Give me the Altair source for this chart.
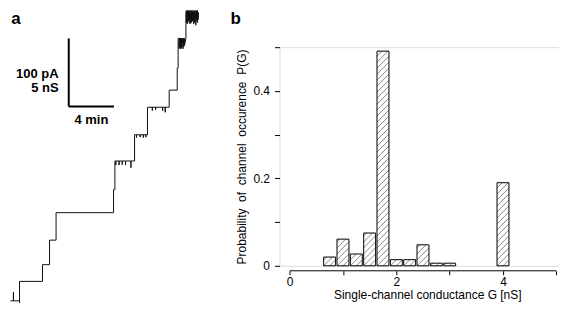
import altair as alt
import pandas as pd

FONT = "Liberation Sans"

# ---------------- panel a: conductance staircase trace ----------------
# time in minutes, conductance in nS
trace_t = [
    0.00, 0.26, 0.26, 0.26, 0.80, 0.80, 0.80, 2.83, 2.83, 3.45, 3.45, 4.03, 4.03,
    9.11, 9.11, 9.23, 9.23,
    9.31, 9.31, 9.31, 9.60, 9.60, 9.60, 9.88, 9.88, 9.88, 10.17, 10.17, 10.17,
    10.65, 10.65, 10.65,
    10.97, 10.97,
    11.14, 11.14, 11.14, 11.46, 11.46, 11.46, 11.74, 11.74, 11.74, 11.97, 11.97, 11.97,
    12.11, 12.11,
    12.54, 12.54, 12.54, 12.83, 12.83, 12.83, 13.45, 13.45, 13.45, 13.68, 13.68, 13.68,
    14.03, 14.03, 14.74, 14.74, 14.82, 14.82,
    14.90, 14.90, 14.95, 14.95, 15.00, 15.00, 15.04, 15.04, 15.10, 15.10,
    15.17, 15.17, 15.24, 15.24, 15.30, 15.30, 15.38, 15.38,
    15.51, 15.51,
    15.55, 15.55, 15.59, 15.59, 15.63, 15.63, 15.67, 15.67, 15.71, 15.71, 15.75, 15.75,
    15.80, 15.80, 15.84, 15.84, 15.88, 15.88, 15.92, 15.92, 15.97, 15.97, 16.01, 16.01,
    16.05, 16.05, 16.10, 16.10, 16.14, 16.14, 16.19, 16.19, 16.23, 16.23, 16.28, 16.28,
    16.33, 16.33, 16.38, 16.38, 16.43, 16.43, 16.48, 16.48, 16.53, 16.53, 16.58, 16.58,
    16.62,
]
trace_g = [
    0.14, 0.14, 0.77, 0.14, 0.14, 0.00, 1.57, 1.57, 2.80, 2.80, 4.60, 4.60, 6.62,
    6.62, 8.31, 8.31, 10.42,
    10.42, 10.12, 10.42, 10.42, 10.12, 10.42, 10.42, 10.15, 10.42, 10.42, 10.12, 10.42,
    10.42, 9.92, 10.42,
    10.42, 12.35,
    12.35, 12.14, 12.35, 12.35, 12.17, 12.35, 12.35, 12.14, 12.35, 12.35, 12.17, 12.35,
    12.35, 14.37,
    14.37, 14.12, 14.37, 14.37, 14.18, 14.37, 14.37, 14.12, 14.37, 14.37, 14.00, 14.37,
    14.37, 15.63, 15.63, 17.25, 17.25, 19.44,
    19.44, 18.70, 19.44, 18.90, 19.44, 18.66, 19.44, 18.80, 19.44, 18.70,
    19.44, 19.00, 19.44, 18.66, 19.44, 18.80, 19.44, 18.90,
    19.44, 21.34,
    21.48, 20.60, 21.34, 20.90, 21.48, 20.50, 21.34, 20.80, 21.48, 20.70, 21.34, 21.00,
    21.48, 20.60, 21.34, 20.80, 21.48, 20.50, 21.34, 20.90, 21.48, 20.70, 21.34, 20.60,
    21.48, 20.90, 21.34, 20.70, 21.48, 20.80, 21.34, 20.50, 21.48, 20.90, 21.34, 20.60,
    21.48, 20.80, 21.34, 20.40, 21.48, 20.90, 21.34, 20.70, 21.48, 20.60, 21.34, 20.80,
    21.34,
]

# scale bars: 4 min and 5 nS (= 100 pA)
bar_len_t = 4
bar_len_g = 5
bar_anchor_t = 5.15
bar_anchor_g = 14.43
scale_texts = ["100 pA", "5 nS", "4 min"]
scale_text_t = [4.25, 4.25, 7.15]
scale_text_g = [16.80, 15.80, 13.40]
scale_text_align = ["right", "right", "center"]

# ---------------- panel b: conductance histogram ----------------
cond = [0.75, 1.0, 1.25, 1.5, 1.75, 2.0, 2.25, 2.5, 2.75, 3.0, 4.0]
prob = [0.020, 0.061, 0.027, 0.075, 0.491, 0.014, 0.014, 0.048, 0.006, 0.006, 0.190]
x_ticks = [0, 1, 2, 3, 4, 5]
y_ticks = [0, 0.1, 0.2, 0.3, 0.4, 0.5]

# ---------------- layout constants ----------------
W, H = 280, 219
XDOM = [-0.19, 5.05]
YDOM = [0, 0.5]
HALF = 0.112
A_T_DOM = [0, 16.9]
A_G_DOM = [0, 21.5]
A_X_RANGE = [-269.5, -78]
A_Y_RANGE = [256, -37]

tx = alt.Scale(domain=A_T_DOM, range=A_X_RANGE, nice=False, zero=False)
gy = alt.Scale(domain=A_G_DOM, range=A_Y_RANGE, nice=False, zero=False)

df_trace = pd.DataFrame({"t": trace_t, "g": trace_g, "i": range(len(trace_t))})
trace = alt.Chart(df_trace).mark_line(color="#111", strokeWidth=1).encode(
    x=alt.X("t:Q", scale=tx, axis=None),
    y=alt.Y("g:Q", scale=gy, axis=None),
    order="i:Q",
)

df_bar = pd.DataFrame({
    "x1": [bar_anchor_t, bar_anchor_t],
    "x2": [bar_anchor_t, bar_anchor_t + bar_len_t],
    "y1": [bar_anchor_g, bar_anchor_g],
    "y2": [bar_anchor_g + bar_len_g, bar_anchor_g],
})
sbar = alt.Chart(df_bar).mark_rule(color="black", strokeWidth=2).encode(
    x=alt.X("x1:Q", scale=tx, axis=None), x2="x2:Q",
    y=alt.Y("y1:Q", scale=gy, axis=None), y2="y2:Q",
)

df_st = pd.DataFrame({"label": scale_texts, "t": scale_text_t, "g": scale_text_g,
                      "al": scale_text_align})
stext_r = alt.Chart(df_st[df_st.al == "right"]).mark_text(
    font=FONT, fontSize=13, fontWeight="bold", align="right", baseline="middle", color="black"
).encode(x=alt.X("t:Q", scale=tx, axis=None), y=alt.Y("g:Q", scale=gy, axis=None), text="label:N")
stext_c = alt.Chart(df_st[df_st.al == "center"]).mark_text(
    font=FONT, fontSize=13, fontWeight="bold", align="center", baseline="middle", color="black"
).encode(x=alt.X("t:Q", scale=tx, axis=None), y=alt.Y("g:Q", scale=gy, axis=None), text="label:N")

lab_a = alt.Chart(pd.DataFrame({"p": ["a"]})).mark_text(
    font=FONT, fontSize=17, fontWeight="bold", align="center", baseline="alphabetic", color="black"
).encode(x=alt.value(-264), y=alt.value(-23), text="p:N")
lab_b = alt.Chart(pd.DataFrame({"p": ["b"]})).mark_text(
    font=FONT, fontSize=17, fontWeight="bold", align="left", baseline="alphabetic", color="black"
).encode(x=alt.value(-49), y=alt.value(-23), text="p:N")

panel_a = alt.layer(trace, sbar, stext_r, stext_c, lab_a, lab_b)

# ---------------- panel b layers ----------------
df_h = pd.DataFrame({"c": cond, "p": prob})
df_h["x0"] = df_h["c"] - HALF
df_h["x1"] = df_h["c"] + HALF
df_h["base"] = 0.0

# diagonal hatch segments derived from the bars
sx = W / (XDOM[1] - XDOM[0])
sy = H / (YDOM[1] - YDOM[0])
SP = 6.0
rows = []
for c, p in zip(cond, prob):
    bw = 2 * HALF * sx
    bh = p * sy
    k = -int(bw // SP) - 1
    while k * SP < bh:
        xs = max(0.0, -k * SP)
        xe = min(bw, bh - k * SP)
        if xe > xs + 0.3:
            rows.append({"hx1": c - HALF + xs / sx, "hx2": c - HALF + xe / sx,
                         "hy1": (xs + k * SP) / sy, "hy2": (xe + k * SP) / sy})
        k += 1
df_hatch = pd.DataFrame(rows)

xsc = alt.Scale(domain=XDOM, nice=False, zero=False)
ysc = alt.Scale(domain=YDOM, nice=False)

x_axis = alt.Axis(
    values=x_ticks, format="d", labelExpr="datum.value % 2 == 0 ? datum.label : ''",
    offset=5, domain=False, grid=False, tickSize=4, tickColor="black", tickWidth=1,
    labelFont=FONT, labelFontSize=12, labelColor="black", labelPadding=2,
    title="Single-channel conductance G [nS]", titleFont=FONT, titleFontSize=12,
    titleFontWeight="normal", titleColor="black", titlePadding=2, titleX=148,
)
y_axis = alt.Axis(
    values=y_ticks,
    labelExpr="datum.value == 0 ? '0' : ((abs(datum.value - 0.2) < 1e-6 || abs(datum.value - 0.4) < 1e-6) ? format(datum.value, '.1f') : '')",
    domain=False, grid=False, tickSize=5, tickColor="black", tickWidth=1,
    labelFont=FONT, labelFontSize=12, labelColor="black", labelPadding=5,
    title="Probability\u00a0 of\u00a0 channel\u00a0 occurence\u00a0 P(G)", titleFont=FONT,
    titleFontSize=12, titleFontWeight="normal", titleColor="black", titlePadding=4,
)

bars = alt.Chart(df_h).mark_rect(fill="white", stroke=None).encode(
    x=alt.X("x0:Q", scale=xsc, axis=x_axis), x2="x1:Q",
    y=alt.Y("p:Q", scale=ysc, axis=y_axis), y2="base:Q",
)
hatch = alt.Chart(df_hatch).mark_rule(color="#555", strokeWidth=0.7).encode(
    x="hx1:Q", x2="hx2:Q", y="hy1:Q", y2="hy2:Q",
)
outline = alt.Chart(df_h).mark_rect(fillOpacity=0, stroke="black", strokeWidth=1).encode(
    x="x0:Q", x2="x1:Q", y="p:Q", y2="base:Q",
)
df_axisline = pd.DataFrame({"a": [min(x_ticks)], "b": [max(x_ticks)]})
xline = alt.Chart(df_axisline).mark_rule(color="black", strokeWidth=1).encode(
    x="a:Q", x2="b:Q", y=alt.value(H + 5),
)

panel_b = alt.layer(bars, hatch, outline, xline)

chart = (
    alt.layer(panel_a, panel_b)
    .resolve_scale(x="independent", y="independent")
    .properties(width=W, height=H, padding=0)
    .configure_view(stroke="black", strokeWidth=1)
    .configure(font=FONT)
)

chart.save("out.html", embed_options={"renderer": "svg", "actions": False})
